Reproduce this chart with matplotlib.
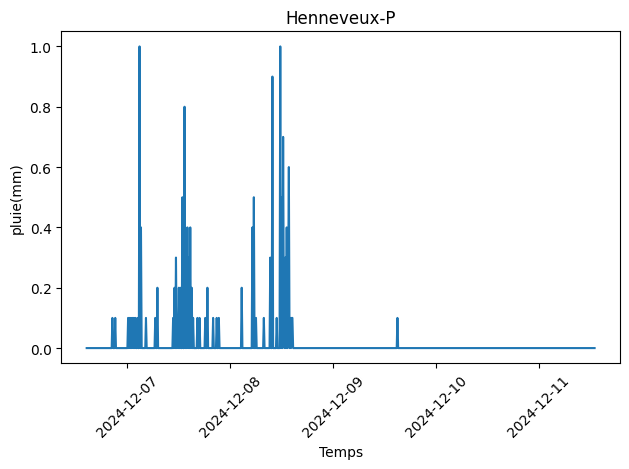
import numpy as np
import pandas as pd
import matplotlib
matplotlib.use('Agg')
import matplotlib.pyplot as plt

# Station rain record, 10-minute steps; only non-zero readings listed
station = 'Henneveux-P'
start_time = '2024-12-06 14:30'
end_time = '2024-12-11 13:00'

rain_times = [
    '2024-12-06 20:30', '2024-12-06 21:10',
    '2024-12-07 00:10', '2024-12-07 00:30', '2024-12-07 00:50',
    '2024-12-07 01:10', '2024-12-07 01:30', '2024-12-07 01:50',
    '2024-12-07 02:20', '2024-12-07 02:50', '2024-12-07 03:10',
    '2024-12-07 04:20', '2024-12-07 06:30', '2024-12-07 07:00',
    '2024-12-07 10:40', '2024-12-07 11:00', '2024-12-07 11:20',
    '2024-12-07 11:40', '2024-12-07 12:00', '2024-12-07 12:20',
    '2024-12-07 12:50', '2024-12-07 13:20', '2024-12-07 13:40',
    '2024-12-07 14:00', '2024-12-07 14:20', '2024-12-07 14:40',
    '2024-12-07 15:00', '2024-12-07 15:20',
    '2024-12-07 16:20', '2024-12-07 16:50', '2024-12-07 18:10',
    '2024-12-07 18:40', '2024-12-07 20:00', '2024-12-07 20:50',
    '2024-12-07 21:20',
    '2024-12-08 02:40', '2024-12-08 05:10', '2024-12-08 05:30',
    '2024-12-08 06:00', '2024-12-08 07:50', '2024-12-08 09:20',
    '2024-12-08 09:50', '2024-12-08 10:50', '2024-12-08 11:40',
    '2024-12-08 12:00', '2024-12-08 12:20', '2024-12-08 12:30',
    '2024-12-08 12:50', '2024-12-08 13:10', '2024-12-08 13:30',
    '2024-12-08 13:40', '2024-12-08 14:00', '2024-12-08 14:20',
    '2024-12-08 14:30',
    '2024-12-09 15:00',
]
rain_mm = [
    0.1, 0.1,
    0.1, 0.1, 0.1,
    0.1, 0.1, 0.1,
    0.1, 1.0, 0.4,
    0.1, 0.1, 0.2,
    0.1, 0.2, 0.3,
    0.1, 0.2, 0.2,
    0.5, 0.8, 0.3,
    0.4, 0.3, 0.4,
    0.2, 0.1,
    0.1, 0.1, 0.1,
    0.2, 0.1, 0.1,
    0.1,
    0.2, 0.4, 0.5,
    0.1, 0.1, 0.3,
    0.9, 0.1, 1.0,
    0.5, 0.7, 0.1,
    0.3, 0.4, 0.2,
    0.6, 0.1, 0.1,
    0.1,
    0.1,
]

times = pd.date_range(start_time, end_time, freq='10min')
pluie = pd.Series(0.0, index=times)
pluie[pd.to_datetime(rain_times)] = rain_mm

fig, ax = plt.subplots()
ax.plot(pluie.index, pluie.values)
ax.set_title(station)
ax.set_xlabel('Temps')
ax.set_ylabel('pluie(mm)')
plt.xticks(rotation=45)
plt.tight_layout()
plt.savefig('out.png', dpi=100, bbox_inches='tight')
plt.close()
